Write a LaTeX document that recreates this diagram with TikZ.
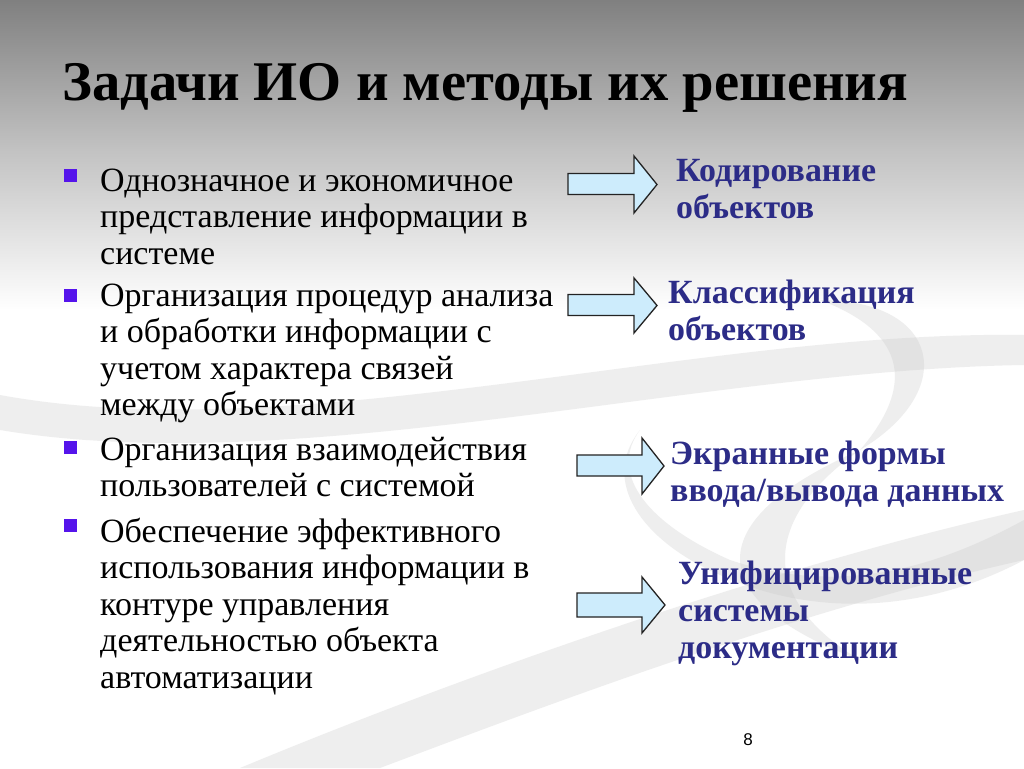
\documentclass[tikz,border=0pt]{standalone}
\usepackage{fontspec}
\usepackage{graphicx}
\setmainfont{Liberation Serif}
\setsansfont{Liberation Sans}
\definecolor{bul}{RGB}{85,20,235}
\definecolor{navy}{RGB}{44,44,135}
\definecolor{afill}{RGB}{205,236,252}
\definecolor{aline}{RGB}{35,35,35}
\definecolor{swoosh}{RGB}{200,200,200}
\newcommand\st{\vrule height 27pt depth 9.5pt width 0pt}
\newcommand\lt{\vrule height 27pt depth 10pt width 0pt}
\begin{document}
\begin{tikzpicture}[x=1pt,y=-1pt,
  itembox/.style={anchor=north west, inner sep=0pt, align=left,
    font=\fontsize{34}{36.5}\selectfont},
  labelbox/.style={anchor=north west, inner sep=0pt, align=left, text=navy,
    font=\bfseries\fontsize{33.9}{37}\selectfont},
  bulletbox/.style={rectangle, fill=bul, inner sep=0pt, minimum size=13pt},
  blockarrow/.style={draw=aline, fill=afill, line width=1.3pt, line join=miter},
  band/.style={fill=swoosh, opacity=0.3}]
\useasboundingbox (0,0) rectangle (1024,768);
% background
\fill[white] (0,0) rectangle (1024,768);
\shade[top color={rgb,255:red,128;green,128;blue,128}, bottom color={rgb,255:red,194;green,194;blue,194}] (0,0) rectangle (1024,150);
\shade[top color={rgb,255:red,194;green,194;blue,194}, bottom color=white] (0,149.5) rectangle (1024,310);
% swooshes
\fill[band] (0,395) .. controls (300,450) and (700,330) .. (1024,335)
  -- (1024,365) .. controls (700,370) and (300,480) .. (0,430) -- cycle;
\fill[band] (820,300) .. controls (940,300) and (960,390) .. (860,450)
  .. controls (920,380) and (900,330) .. (820,300) -- cycle;
\fill[band] (860,450) .. controls (700,520) and (700,600) .. (860,660)
  .. controls (760,600) and (760,520) .. (860,450) -- cycle;
\fill[band] (640,430) .. controls (610,470) and (640,520) .. (730,560)
  .. controls (850,600) and (950,560) .. (1024,520) -- (1024,560)
  .. controls (930,610) and (820,620) .. (720,575)
  .. controls (640,540) and (600,480) .. (640,430) -- cycle;
\fill[band] (240,768) .. controls (500,660) and (800,560) .. (1024,510)
  -- (1024,560) .. controls (800,610) and (560,700) .. (380,768) -- cycle;
% title
\node[anchor=base west, inner sep=0pt] (title) at (62,100)
  {\resizebox{846pt}{\height}{\bfseries\fontsize{56}{60}\selectfont Задачи ИО и методы их решения}};
% bullets
\node[bulletbox] (b1) at (70,175) {};
\node[bulletbox] (b2) at (70,295) {};
\node[bulletbox] (b3) at (70,447) {};
\node[bulletbox] (b4) at (70,525) {};
% items
\node[itembox] (i1) at (100,164) {\st Однозначное и экономичное\\\st представление информации в\\\st системе};
\node[itembox] (i2) at (100,279) {\st Организация процедур анализа\\\st и обработки информации с\\\st учетом характера связей\\\st между объектами};
\node[itembox] (i3) at (100,433) {\st Организация взаимодействия\\\st пользователей с системой};
\node[itembox] (i4) at (100,515) {\st Обеспечение эффективного\\\st использования информации в\\\st контуре управления\\\st деятельностью объекта\\\st автоматизации};
% block arrows
\draw[blockarrow] (568,173.5) -- (634,173.5) -- (634,156) -- (657,184.5) -- (634,213) -- (634,194.5) -- (568,194.5) -- cycle;
\draw[blockarrow] (568,294.5) -- (634,294.5) -- (634,278) -- (657,305.5) -- (634,333) -- (634,315.5) -- (568,315.5) -- cycle;
\draw[blockarrow] (577,455) -- (642,455) -- (642,438) -- (664,466) -- (642,494) -- (642,476) -- (577,476) -- cycle;
\draw[blockarrow] (577,593) -- (642,593) -- (642,577) -- (665,605) -- (642,633) -- (642,617) -- (577,617) -- cycle;
% labels
\node[labelbox] (l1) at (676,154) {\lt Кодирование\\\lt объектов};
\node[labelbox] (l2) at (668,276) {\lt Классификация\\\lt объектов};
\node[labelbox] (l3) at (670,437) {\lt Экранные формы\\\lt ввода/вывода данных};
\node[labelbox] (l4) at (678,557) {\lt Унифицированные\\\lt системы\\\lt документации};
% page number
\node[anchor=base, inner sep=0pt, font=\sffamily\fontsize{17}{20}\selectfont] (pg) at (748,745) {8};
\end{tikzpicture}
\end{document}
